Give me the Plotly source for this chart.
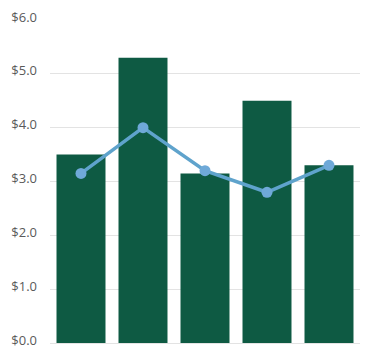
import plotly.graph_objects as go

categories = ["A", "B", "C", "D", "E"]
bar_values = [3.5, 5.3, 3.15, 4.5, 3.3]
line_values = [3.15, 4.0, 3.2, 2.8, 3.3]
tick_values = [0, 1, 2, 3, 4, 5, 6]
tick_labels = ["$0.0", "$1.0", "$2.0", "$3.0", "$4.0", "$5.0", "$6.0"]

fig = go.Figure()
fig.add_trace(go.Bar(
    x=categories, y=bar_values,
    marker=dict(color="#0E5A43", line=dict(width=0)),
))
fig.add_trace(go.Scatter(
    x=categories, y=line_values, mode="lines+markers",
    line=dict(color="#5FA3CC", width=3.5),
    marker=dict(color="#6FA9D8", size=11),
))

fig.update_layout(
    width=388, height=350,
    margin=dict(l=50, r=28, t=20, b=7),
    paper_bgcolor="white", plot_bgcolor="white",
    showlegend=False,
    bargap=0.21,
    font=dict(family="Open Sans", size=13, color="#5A5A5A"),
    xaxis=dict(showticklabels=False, showgrid=False, zeroline=False, showline=False,
               automargin=False),
    yaxis=dict(range=[0, 6], tickvals=tick_values, ticktext=tick_labels,
               showgrid=True, gridcolor="#E3E3E3", gridwidth=1,
               zeroline=True, zerolinecolor="#E3E3E3", zerolinewidth=1,
               ticklabelstandoff=12, ticklabelshift=-3, ticklabeloverflow="allow",
               showline=False, automargin=False),
)

fig.write_html("out.html")
